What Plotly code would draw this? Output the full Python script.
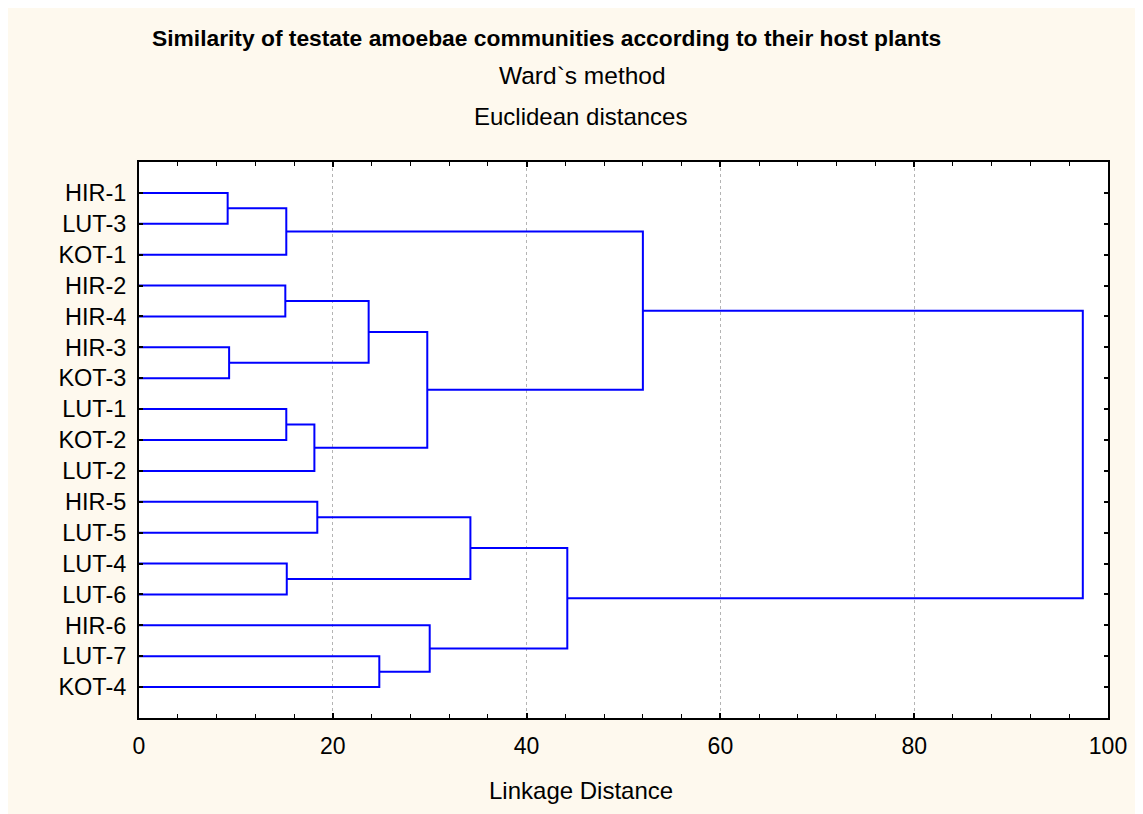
import plotly.graph_objects as go

# ---- data ----
leaves = ["HIR-1", "LUT-3", "KOT-1", "HIR-2", "HIR-4", "HIR-3", "KOT-3", "LUT-1",
          "KOT-2", "LUT-2", "HIR-5", "LUT-5", "LUT-4", "LUT-6", "HIR-6", "LUT-7", "KOT-4"]
# linkage: node ids 0..16 are leaves, new clusters get ids 17, 18, ...
merge_left = [0, 5, 3, 17, 7, 12, 21, 10, 19, 15, 25, 14, 24, 29, 20, 31]
merge_right = [1, 6, 4, 2, 8, 13, 9, 11, 18, 16, 23, 26, 22, 28, 27, 30]
merge_dist = [9.15, 9.3, 15.1, 15.2, 15.2, 15.25, 18.1, 18.4, 23.7, 24.8, 29.75, 30.0, 34.2, 44.2, 52.0, 97.4]
x_ticks = [0, 20, 40, 60, 80, 100]

title = "Similarity of testate amoebae communities according to their host plants"
sub1 = "Ward`s method"
sub2 = "Euclidean distances"
x_title = "Linkage Distance"

# ---- build dendrogram segments ----
pos = {i: i + 1 for i in range(len(leaves))}
height = {i: 0.0 for i in range(len(leaves))}
xs, ys = [], []
nid = len(leaves)
for a, b, d in zip(merge_left, merge_right, merge_dist):
    ya, yb = pos[a], pos[b]
    xs += [height[a], d, d, height[b], None]
    ys += [ya, ya, yb, yb, None]
    pos[nid] = (ya + yb) / 2
    height[nid] = d
    nid += 1

OFF = 8  # page body margin
SW, SH = 1143, 814
W, H = SW - OFF, SH - OFF
L, R, T, B = 139 - OFF, 1108 - OFF, 162 - OFF, 718 - OFF
PW, PH = R - L, B - T

def px(x):  # screen x -> paper
    return (x - OFF - L) / PW

def py(y):  # screen y -> paper
    return (B - (y - OFF)) / PH

fig = go.Figure()
fig.add_trace(go.Scatter(x=xs, y=ys, mode="lines",
                         line=dict(color="#0000FF", width=2),
                         hoverinfo="skip", showlegend=False))

font = "Liberation Sans, Arial, Helvetica, sans-serif"
fig.update_layout(
    width=W, height=H,
    margin=dict(l=L, r=W - R, t=T, b=H - B, pad=0),
    paper_bgcolor="#FEF9EE",
    plot_bgcolor="#FFFFFF",
    font=dict(family=font, size=23, color="#000000"),
    showlegend=False,
)
fig.update_xaxes(
    range=[0, 100], tickvals=x_ticks, ticks="inside", ticklen=5, tickwidth=1.5,
    tickcolor="black", showline=True, linecolor="black", linewidth=2, mirror="ticks",
    showgrid=True, gridcolor="#B4B4B4", griddash="dot", gridwidth=1,
    zeroline=False, tickfont=dict(size=23), ticklabelstandoff=6,
    minor=dict(dtick=4, ticks="inside", ticklen=4, tickcolor="black", tickwidth=1.2, showgrid=False),
)
fig.update_yaxes(
    range=[len(leaves) + 1, 0], tickvals=list(range(1, len(leaves) + 1)), ticktext=leaves,
    ticks="inside", ticklen=4, tickwidth=1.5, tickcolor="black",
    showline=True, linecolor="black", linewidth=2, mirror="ticks",
    showgrid=False, zeroline=False, tickfont=dict(size=23.5), ticklabelstandoff=6,
)

# titles
fig.add_annotation(text="<b>" + title + "</b>", x=px(546), y=py(38), xref="paper", yref="paper",
                   showarrow=False, xanchor="center", yanchor="middle", font=dict(size=22.8))
fig.add_annotation(text=sub1, x=px(582), y=py(75), xref="paper", yref="paper",
                   showarrow=False, xanchor="center", yanchor="middle", font=dict(size=24.5))
fig.add_annotation(text=sub2, x=px(580), y=py(116), xref="paper", yref="paper",
                   showarrow=False, xanchor="center", yanchor="middle", font=dict(size=24))
fig.add_annotation(text=x_title, x=px(581), y=py(790), xref="paper", yref="paper",
                   showarrow=False, xanchor="center", yanchor="middle", font=dict(size=24))

# outer frame (left and top edges visible)
fig.add_shape(type="rect", xref="paper", yref="paper",
              x0=px(7), y0=py(7), x1=px(SW + 20), y1=py(SH + 20),
              line=dict(color="#1A1A1A", width=2), fillcolor="rgba(0,0,0,0)", layer="below")

fig.write_html("out.html")
